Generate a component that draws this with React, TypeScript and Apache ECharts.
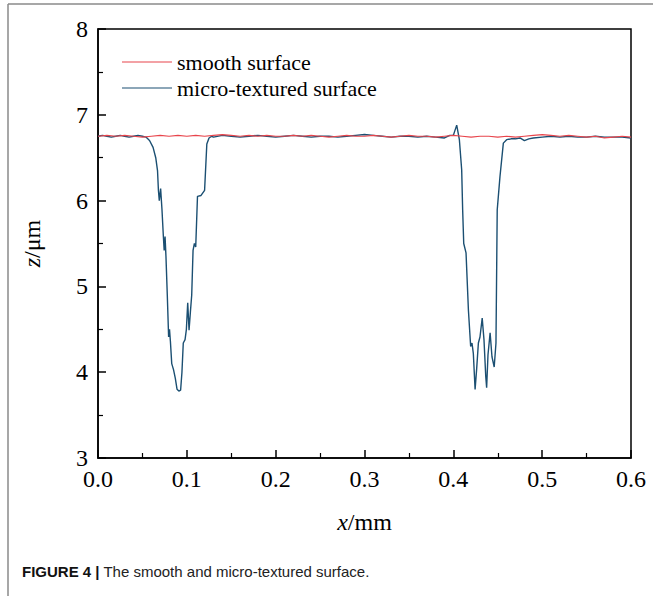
import React, { useEffect, useRef } from "react";
import * as echarts from "echarts";

const xTicks = [0.0, 0.1, 0.2, 0.3, 0.4, 0.5, 0.6];
const yTicks = [3, 4, 5, 6, 7, 8];

const smoothX = [
  0.0, 0.01, 0.02, 0.03, 0.04, 0.05, 0.06, 0.07, 0.08, 0.09, 0.1, 0.11, 0.12, 0.13, 0.14, 0.15,
  0.16, 0.17, 0.18, 0.19, 0.2, 0.21, 0.22, 0.23, 0.24, 0.25, 0.26, 0.27, 0.28, 0.29, 0.3, 0.31,
  0.32, 0.33, 0.34, 0.35, 0.36, 0.37, 0.38, 0.39, 0.4, 0.41, 0.42, 0.43, 0.44, 0.45, 0.46, 0.47,
  0.48, 0.49, 0.5, 0.51, 0.52, 0.53, 0.54, 0.55, 0.56, 0.57, 0.58, 0.59, 0.6,
];
const smoothZ = [
  6.75, 6.76, 6.75, 6.76, 6.75, 6.74, 6.75, 6.76, 6.75, 6.76, 6.75, 6.76, 6.75, 6.76, 6.77, 6.76,
  6.75, 6.76, 6.75, 6.76, 6.75, 6.75, 6.76, 6.75, 6.76, 6.75, 6.74, 6.75, 6.76, 6.75, 6.75, 6.76,
  6.75, 6.74, 6.75, 6.76, 6.75, 6.75, 6.74, 6.75, 6.76, 6.75, 6.74, 6.75, 6.75, 6.74, 6.75, 6.74,
  6.75, 6.76, 6.77, 6.76, 6.75, 6.76, 6.75, 6.74, 6.75, 6.73, 6.74, 6.75, 6.74,
];

const texturedX = [
  0.0, 0.005, 0.01, 0.015, 0.02, 0.025, 0.03, 0.035, 0.04, 0.045, 0.05, 0.054, 0.058, 0.062,
  0.065, 0.067, 0.068, 0.069, 0.0705, 0.072, 0.0735, 0.0745, 0.0755, 0.0765, 0.078, 0.0795,
  0.0805, 0.0815, 0.083, 0.085, 0.087, 0.089, 0.091, 0.093, 0.0945, 0.096, 0.098, 0.0995, 0.101,
  0.1025, 0.104, 0.1055, 0.107, 0.1085, 0.11, 0.112, 0.116, 0.12, 0.1225, 0.125, 0.128,
  0.13, 0.14, 0.15, 0.16, 0.17, 0.18, 0.19, 0.2, 0.21, 0.22, 0.23, 0.24, 0.25, 0.26, 0.27, 0.28,
  0.29, 0.3, 0.31, 0.32, 0.33, 0.34, 0.35, 0.36, 0.37, 0.38, 0.39, 0.396, 0.4, 0.4038, 0.4068,
  0.4094, 0.4105, 0.4117, 0.4143, 0.417, 0.4195, 0.421, 0.4225, 0.4245, 0.4262, 0.4282, 0.43,
  0.4325, 0.4345, 0.4365, 0.4375, 0.439, 0.4414, 0.4435, 0.446, 0.448, 0.4494, 0.4525, 0.4563,
  0.46, 0.465, 0.47, 0.475, 0.48, 0.485, 0.49, 0.5, 0.51, 0.52, 0.53, 0.54, 0.55, 0.56, 0.57,
  0.58, 0.59, 0.6,
];
const texturedZ = [
  6.75, 6.76, 6.75, 6.74, 6.75, 6.76, 6.75, 6.74, 6.75, 6.76, 6.75, 6.74, 6.7, 6.62,
  6.5, 6.35, 6.12, 6.0, 6.14, 5.9, 5.6, 5.42, 5.58, 5.35, 4.9, 4.41,
  4.5, 4.36, 4.1, 4.03, 3.93, 3.8, 3.78, 3.79, 4.0, 4.34, 4.38, 4.5, 4.81,
  4.49, 4.7, 4.9, 5.42, 5.5, 5.46, 6.05, 6.06, 6.12, 6.66, 6.73, 6.75,
  6.74, 6.76, 6.75, 6.74, 6.75, 6.76, 6.75, 6.74, 6.75, 6.76, 6.75, 6.74, 6.75, 6.75, 6.74, 6.75,
  6.76, 6.77, 6.76, 6.75, 6.74, 6.75, 6.75, 6.74, 6.75, 6.74, 6.73, 6.76, 6.76, 6.88, 6.71,
  6.36, 5.89, 5.5, 5.39, 4.72, 4.3, 4.34, 4.22, 3.8, 4.03, 4.34, 4.41,
  4.63, 4.38, 3.95, 3.82, 4.2, 4.46, 4.18, 4.06, 4.34, 5.89, 6.28, 6.67,
  6.71, 6.72, 6.72, 6.73, 6.7, 6.72, 6.73, 6.74, 6.75, 6.74, 6.75, 6.74, 6.74, 6.75, 6.74,
  6.74, 6.74, 6.73,
];

const SERIF = "'Liberation Serif', 'Times New Roman', serif";

export default function App() {
  const ref = useRef<HTMLDivElement>(null);
  useEffect(() => {
    if (!ref.current) return;
    const chart = echarts.init(ref.current, null, { renderer: "svg" });
    const smooth = smoothX.map((x, i) => [x, smoothZ[i]]);
    const textured = texturedX.map((x, i) => [x, texturedZ[i]]);
    chart.setOption({
      animation: false,
      backgroundColor: "#fff",
      grid: {
        left: 98,
        top: 29,
        right: 22,
        bottom: 138,
        show: true,
        borderColor: "#000",
        borderWidth: 1.5,
      },
      legend: {
        orient: "vertical",
        left: 117,
        top: 46,
        itemWidth: 50,
        itemHeight: 14,
        itemGap: 4,
        data: ["smooth surface", "micro-textured surface"],
        textStyle: { fontFamily: SERIF, fontSize: 22, color: "#000", lineHeight: 22 },
        icon: "path://M0,0 L50,0 L50,1 L0,1 Z",
      },
      xAxis: {
        type: "value",
        min: xTicks[0],
        max: xTicks[xTicks.length - 1],
        interval: 0.1,
        name: "{i|x}/mm",
        nameLocation: "middle",
        nameGap: 52,
        nameTextStyle: {
          fontFamily: SERIF,
          fontSize: 24,
          color: "#000",
          rich: { i: { fontFamily: SERIF, fontSize: 24, fontStyle: "italic", color: "#000" } },
        },
        axisLine: { lineStyle: { color: "#000", width: 1.5 } },
        axisTick: { inside: true, length: 8, lineStyle: { color: "#000", width: 1.5 } },
        minorTick: { show: true, splitNumber: 2, length: 5, lineStyle: { color: "#000", width: 1.2 } },
        axisLabel: {
          fontFamily: SERIF,
          fontSize: 24,
          color: "#000",
          margin: 9,
          formatter: (v: number) => v.toFixed(1),
        },
        splitLine: { show: false },
      },
      yAxis: {
        type: "value",
        min: yTicks[0],
        max: yTicks[yTicks.length - 1],
        interval: 1,
        name: "{i|z}/μm",
        nameLocation: "middle",
        nameGap: 54,
        nameTextStyle: {
          fontFamily: SERIF,
          fontSize: 24,
          color: "#000",
          rich: { i: { fontFamily: SERIF, fontSize: 24, fontStyle: "italic", color: "#000" } },
        },
        axisLine: { show: true, lineStyle: { color: "#000", width: 1.5 } },
        axisTick: { show: true, inside: true, length: 8, lineStyle: { color: "#000", width: 1.5 } },
        minorTick: { show: true, splitNumber: 2, length: 5, lineStyle: { color: "#000", width: 1.2 } },
        axisLabel: { fontFamily: SERIF, fontSize: 24, color: "#000", margin: 10 },
        splitLine: { show: false },
      },
      series: [
        {
          name: "micro-textured surface",
          type: "line",
          data: textured,
          symbol: "none",
          color: "#1b4f72",
          lineStyle: { color: "#1b4f72", width: 1.4 },
        },
        {
          name: "smooth surface",
          type: "line",
          data: smooth,
          symbol: "none",
          color: "#e8454c",
          lineStyle: { color: "#e8454c", width: 1.2 },
        },
      ],
      graphic: [
        {
          type: "line",
          shape: { x1: 8, y1: 4, x2: 653, y2: 4 },
          style: { stroke: "#8a8a8a", lineWidth: 1.5 },
        },
        {
          type: "line",
          shape: { x1: 8, y1: 4, x2: 8, y2: 596 },
          style: { stroke: "#8a8a8a", lineWidth: 1.5 },
        },
        {
          type: "text",
          left: 22,
          top: 564,
          style: {
            text: "{b|FIGURE 4 |} The smooth and micro-textured surface.",
            font: "15px 'Liberation Sans', Arial, sans-serif",
            fill: "#222",
            rich: {
              b: { fontWeight: "bold", fontSize: 15, fontFamily: "'Liberation Sans', Arial, sans-serif", fill: "#111" },
            },
          },
        },
      ],
    });
    return () => chart.dispose();
  }, []);
  return (
    <div
      ref={ref}
      style={{ position: "fixed", left: 0, top: 0, width: 653, height: 596, background: "#fff" }}
    />
  );
}
